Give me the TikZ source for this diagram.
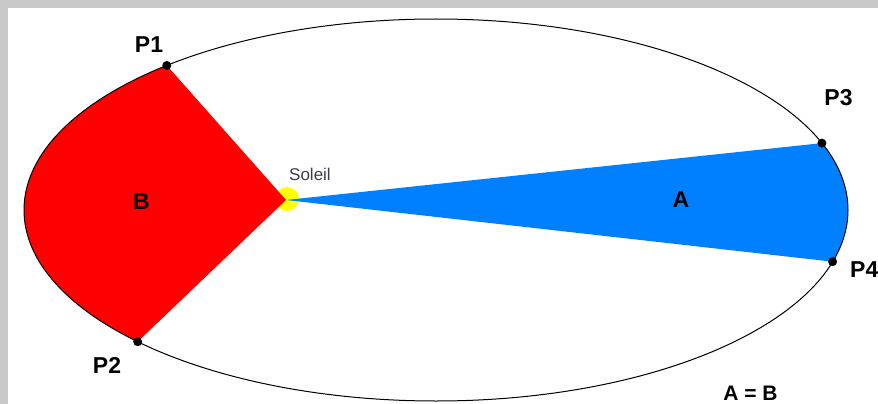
\documentclass[tikz,border=0pt]{standalone}
\usepackage{fontspec}
\setmainfont{Liberation Sans}
\definecolor{bordergray}{RGB}{200,200,200}
\definecolor{sectorred}{RGB}{255,0,0}
\definecolor{sectorblue}{RGB}{0,128,255}
\definecolor{sunyellow}{RGB}{255,255,0}
\definecolor{soleilgray}{RGB}{60,60,80}
\begin{document}
\begin{tikzpicture}[x=1pt,y=-1pt,
  lab/.style={font=\fontsize{23}{26}\selectfont\bfseries, inner sep=0pt, text=black},
  planetdot/.style={circle, fill=black, inner sep=0pt, minimum size=9pt},
  orbit/.style={draw=black, line width=1pt}]
\clip (0,0) rectangle (878,404);
\useasboundingbox (0,0) rectangle (878,404);
\fill[white] (0,0) rectangle (878,404);
\fill[bordergray] (0,0) rectangle (878,8);
\fill[bordergray] (0,0) rectangle (8,404);
\def\cx{436}\def\cy{210}\def\ea{412}\def\eb{191}
\coordinate (sun) at (286,200);
\coordinate (P1pt) at ({\cx+\ea*cos(130.8)},{\cy-\eb*sin(130.8)});
\coordinate (P2pt) at ({\cx+\ea*cos(223.6)},{\cy-\eb*sin(223.6)});
\coordinate (P3pt) at ({\cx+\ea*cos(20.5)},{\cy-\eb*sin(20.5)});
\coordinate (P4pt) at ({\cx+\ea*cos(-15.7)},{\cy-\eb*sin(-15.7)});
% sun
\fill[sunyellow] (287,199) circle[radius=12pt];
% sector B
\fill[sectorred] (sun) -- (P1pt) -- plot[domain=130.8:223.6, samples=80] ({\cx+\ea*cos(\x)},{\cy-\eb*sin(\x)}) -- cycle;
% sector A
\fill[sectorblue] (sun) -- (P4pt) -- plot[domain=-15.7:20.5, samples=60] ({\cx+\ea*cos(\x)},{\cy-\eb*sin(\x)}) -- cycle;
% orbit
\draw[orbit] (\cx,\cy) ellipse[x radius=412pt, y radius=191pt];
% planets
\node[planetdot] (P1) at (P1pt) {};
\node[planetdot] (P2) at (P2pt) {};
\node[planetdot] (P3) at (P3pt) {};
\node[planetdot] (P4) at (P4pt) {};
% labels
\node[lab, anchor=base] (l1) at (149,53) {P1};
\node[lab, anchor=base] (l2) at (107,373) {P2};
\node[lab, anchor=base] (l3) at (838.5,105) {P3};
\node[lab, anchor=base west] (l4) at (850,277) {P4};
\node[lab, anchor=base] (lb) at (141.5,209) {B};
\node[lab, anchor=base] (la) at (681,207) {A};
\node[inner sep=0pt, anchor=base west, text=soleilgray, font=\fontsize{17}{20}\selectfont] (soleil) at (289,180) {Soleil};
\node[lab, anchor=base, font=\fontsize{21}{24}\selectfont\bfseries] (eq) at (750.5,400) {A = B};
\end{tikzpicture}
\end{document}
